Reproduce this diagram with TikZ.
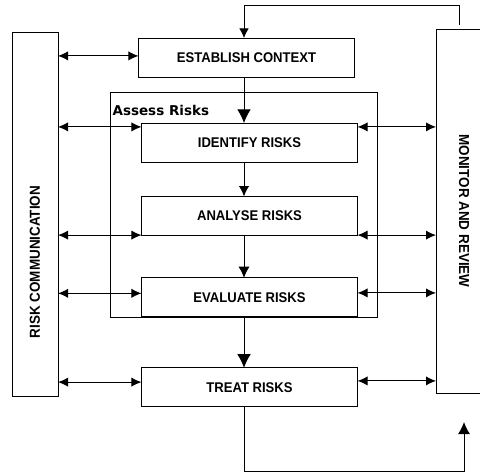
\documentclass[tikz,border=0pt]{standalone}
\usepackage{fontspec}
\setmainfont{Liberation Sans}
\newfontfamily\stagefont[FakeStretch=0.93]{Liberation Sans}
\newfontfamily\assessfont{DejaVu Sans}
\usetikzlibrary{arrows.meta,positioning,calc}
\tikzset{
    stage/.style={draw, line width=0.7pt, minimum width=54mm, minimum height=9.75mm, inner sep=0pt, outer sep=0pt,
        font=\stagefont\bfseries\fontsize{10}{12}\selectfont},
    side/.style={draw, line width=0.7pt, minimum height=91mm, inner sep=0pt, outer sep=0pt},
    sidelabel/.style={inner sep=0pt, font=\stagefont\bfseries\fontsize{10.3}{12}\selectfont},
    flow/.style={-{Latex[length=#1, width=#1]}, line width=0.7pt},
    flow/.default=2.8mm,
    dflow/.style={{Latex[length=2.5mm, width=2.3mm]}-{Latex[length=2.5mm, width=2.3mm]}, line width=0.7pt}
}
\begin{document}
\begin{tikzpicture}[x=0.25mm, y=-0.25mm]
\useasboundingbox (0,0) rectangle (480,474);
\clip (0,0) rectangle (480,474);

% assess frame
\node[draw, line width=0.7pt, minimum width=66.75mm, minimum height=56.25mm, inner sep=0pt] (assess) at (243.5,204.5) {};
\node[anchor=base west, inner sep=0pt, font=\assessfont\bfseries\fontsize{9.6}{11}\selectfont] (asslbl)
    at ([xshift=0.7mm, yshift=-6mm]assess.north west) {Assess Risks};

% process column
\node[stage] (est) at (246.5,57.5) {ESTABLISH CONTEXT};
\node[stage, below=11.5mm of est, xshift=0.75mm] (idf) {IDENTIFY RISKS};
\node[stage, below=8.6mm of idf] (ana) {ANALYSE RISKS};
\node[stage, below=10.6mm of ana] (eva) {EVALUATE RISKS};
\node[stage, below=12.75mm of eva] (trt) {TREAT RISKS};

% side boxes
\node[side, minimum width=11.5mm] (comm) at (35,214) {};
\node[sidelabel, rotate=90] (commlbl) at ([yshift=-12mm]comm.center) {RISK COMMUNICATION};
\node[side, minimum width=14mm] (mon) at (464,211) {};
\node[sidelabel, rotate=-90] (monlbl) at (mon.center) {MONITOR AND REVIEW};

% arrows down the column
\coordinate (spine) at (244,0);
\foreach \a/\b/\h in {est/idf/3.4mm, idf/ana/2.6mm, ana/eva/2.8mm, eva/trt/3.4mm}
    \draw[flow=\h] (\a.south -| spine) -- (\b.north -| spine);

% communication links
\foreach \b/\dy in {est/0.4, idf/3.9, ana/-4.8, eva/1, trt/1.3} {
    \coordinate (l\b) at ([yshift=\dy mm]\b.west);
    \draw[dflow] (l\b -| comm.east) -- (l\b);
}
% monitoring links
\foreach \b/\dy in {idf/3.9, ana/-4.8, eva/1.1, trt/1.6} {
    \coordinate (r\b) at ([yshift=\dy mm]\b.east);
    \draw[dflow] (r\b) -- (r\b -| mon.west);
}

% feedback loops
\coordinate (fbtop) at (459,25);
\draw[flow=2.4mm] (fbtop) -- ++(0,-20) -| (est.north -| spine);
\coordinate (fbcorner) at (464,471);
\coordinate (fbend) at (464,422);
\draw[flow=3mm] (trt.south -| spine) |- (fbcorner) -- (fbend);
\end{tikzpicture}
\end{document}
